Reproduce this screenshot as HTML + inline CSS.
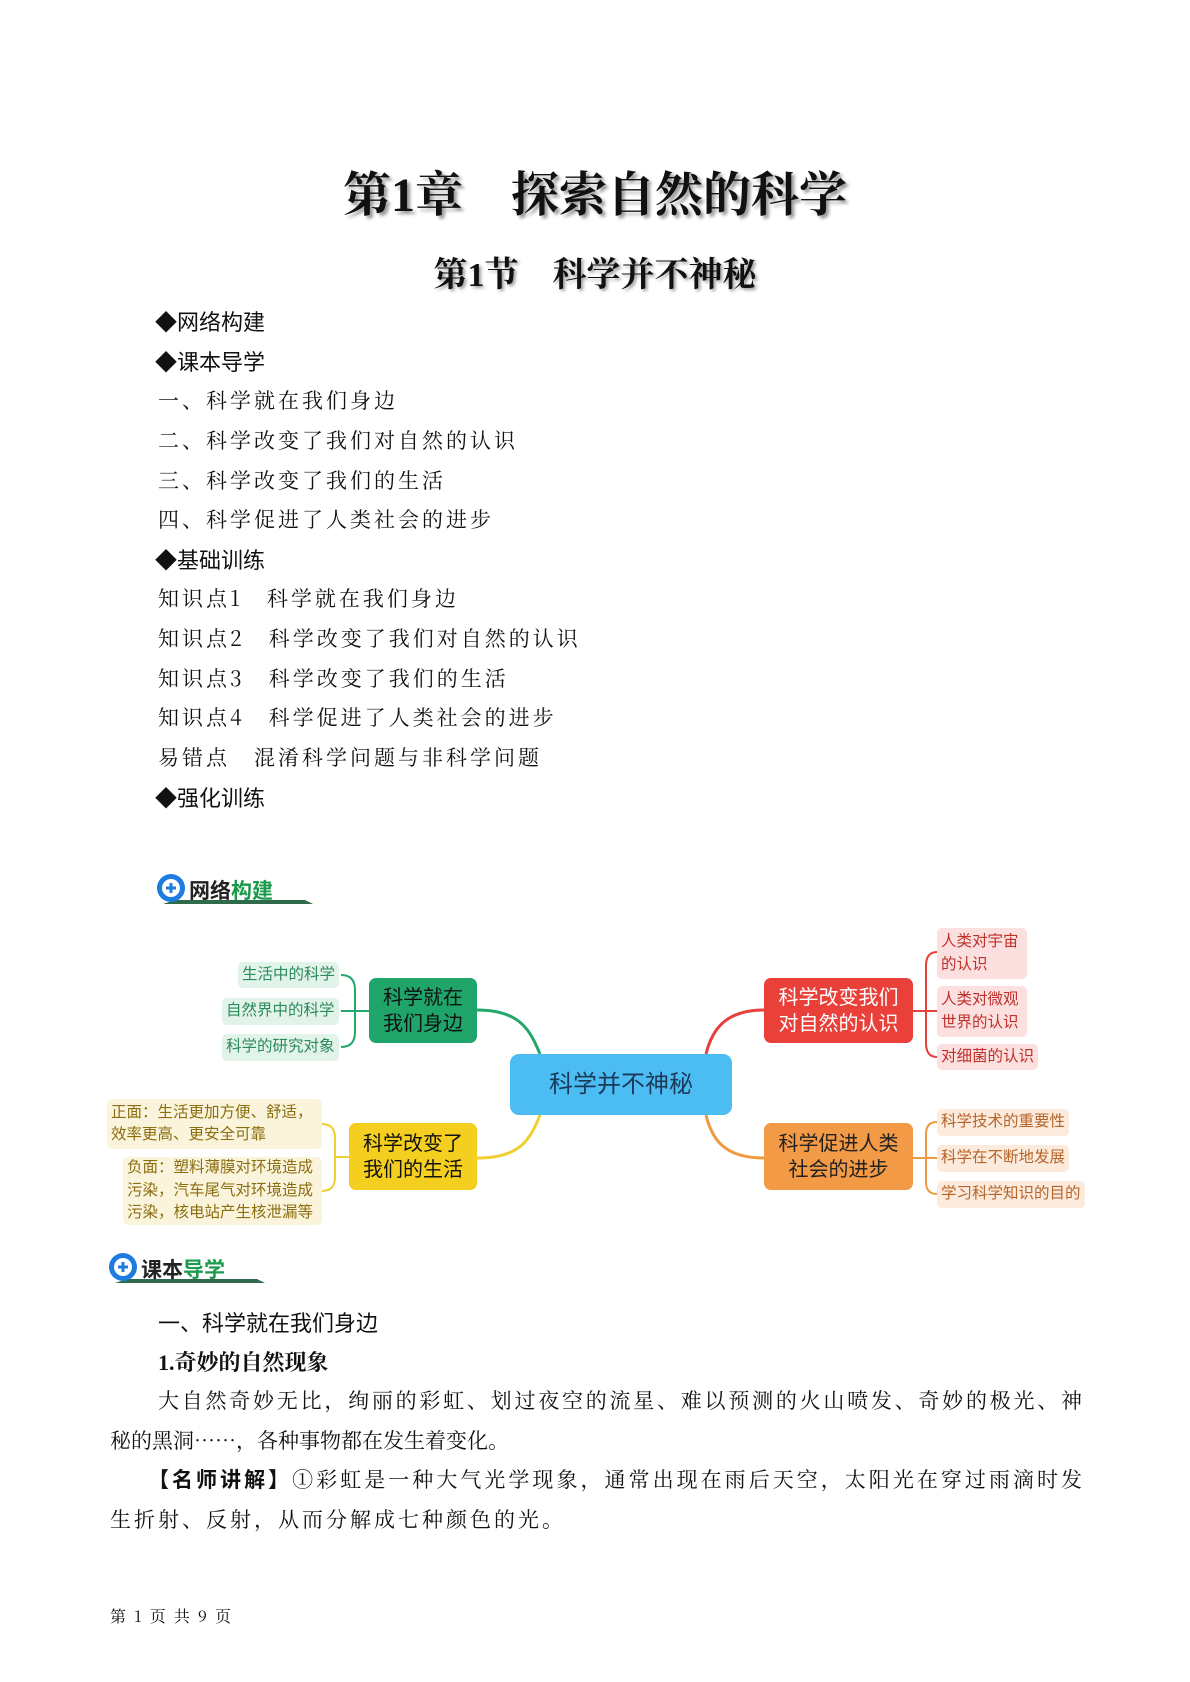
<!DOCTYPE html>
<html><head><meta charset="utf-8"><style>
*{margin:0;padding:0;box-sizing:border-box}
body{width:1190px;height:1682px;background:#fff;position:relative;overflow:hidden;font-family:"Liberation Serif","Noto Serif CJK SC",serif;color:#111}
.a{position:absolute;white-space:nowrap}
.t1{left:0;width:1190px;text-align:center;top:156px;font-size:48px;font-weight:bold;text-shadow:3px 3px 3px #999;font-family:"Liberation Serif","Noto Serif CJK SC",serif}
.t2{left:0;width:1190px;text-align:center;top:247px;font-size:34px;font-weight:bold;text-shadow:2px 2px 3px #999}
.h{font-family:"Liberation Sans","Noto Sans CJK SC",sans-serif;font-size:22px;left:155px}
.l{font-family:"Noto Serif CJK SC",serif;font-size:21px;left:158px;letter-spacing:3px}
.nd{position:absolute;display:flex;align-items:center;justify-content:center;text-align:center;font-family:"Liberation Sans","Noto Sans CJK SC",sans-serif;border-radius:7px;line-height:1.3}
.lf{position:absolute;font-family:"Liberation Sans","Noto Sans CJK SC",sans-serif;font-size:15.5px;border-radius:5px;padding:2px 4px;line-height:1.45;display:flex;align-items:center}
.g{background:#e2f3ea;color:#2a8a5c}
.r{background:#fbe0df;color:#c0302a}
.y{background:#fbf4dc;color:#8a6e10}
.o{background:#fcebdc;color:#b5642a}
.p{font-family:"Noto Serif CJK SC",serif;font-size:21px;position:absolute;left:110px;width:972px;line-height:40px;text-align:justify;text-align-last:justify}
</style></head><body>
<div class="a t1">第1章　探索自然的科学</div>
<div class="a t2">第1节　科学并不神秘</div>
<div class="a h" style="top:305px">◆网络构建</div>
<div class="a h" style="top:345px">◆课本导学</div>
<div class="a l" style="top:385px">一、科学就在我们身边</div>
<div class="a l" style="top:425px">二、科学改变了我们对自然的认识</div>
<div class="a l" style="top:465px">三、科学改变了我们的生活</div>
<div class="a l" style="top:504px">四、科学促进了人类社会的进步</div>
<div class="a h" style="top:543px">◆基础训练</div>
<div class="a l" style="top:583px">知识点1　科学就在我们身边</div>
<div class="a l" style="top:623px">知识点2　科学改变了我们对自然的认识</div>
<div class="a l" style="top:663px">知识点3　科学改变了我们的生活</div>
<div class="a l" style="top:702px">知识点4　科学促进了人类社会的进步</div>
<div class="a l" style="top:742px">易错点　混淆科学问题与非科学问题</div>
<div class="a h" style="top:781px">◆强化训练</div>

<svg class="a" style="left:155px;top:872px" width="160" height="36"><path d="M8 32 L158 32 L150 28 L20 28Z" fill="#2f6b4a"/><circle cx="16" cy="16" r="14" fill="#1e7be0"/><circle cx="16" cy="16" r="9" fill="#fff"/><path d="M16 11v10M11 16h10" stroke="#1e7be0" stroke-width="3"/><text x="34" y="26" font-family="Liberation Sans,Noto Sans CJK SC,sans-serif" font-size="21" font-weight="bold" fill="#222">网络<tspan fill="#1a9a4a">构建</tspan></text></svg>
<svg class="a" style="left:107px;top:1251px" width="160" height="36"><path d="M8 32 L158 32 L150 28 L20 28Z" fill="#2f6b4a"/><circle cx="16" cy="16" r="14" fill="#1e7be0"/><circle cx="16" cy="16" r="9" fill="#fff"/><path d="M16 11v10M11 16h10" stroke="#1e7be0" stroke-width="3"/><text x="34" y="26" font-family="Liberation Sans,Noto Sans CJK SC,sans-serif" font-size="21" font-weight="bold" fill="#222">课本<tspan fill="#1a9a4a">导学</tspan></text></svg>

<svg class="a" style="left:0;top:0" width="1190" height="1682" fill="none" stroke-width="3">
<path d="M477 1010 C520 1010 530 1030 540 1054" stroke="#22a86a"/>
<path d="M764 1010 C725 1010 712 1030 706 1054" stroke="#e5403a"/>
<path d="M477 1158 C520 1158 530 1140 540 1115" stroke="#f0cf30"/>
<path d="M764 1158 C725 1158 712 1140 706 1115" stroke="#f09a40"/>
<g stroke-width="2">
<path d="M369 1011 H355 M341 975 Q355 975 355 990 V1032 Q355 1047 341 1047 M341 1011 H355" stroke="#22a86a"/>
<path d="M913 1011 H926 M937 952 Q926 952 926 966 V1043 Q926 1057 937 1057 M926 1011 H937" stroke="#e5403a"/>
<path d="M349 1157 H335 M322 1124 Q335 1124 335 1138 V1177 Q335 1191 322 1191" stroke="#f0cf30"/>
<path d="M913 1158 H926 M937 1122 Q926 1122 926 1134 V1182 Q926 1194 937 1194 M926 1158 H937" stroke="#f09a40"/>
</g></svg>

<div class="nd" style="left:510px;top:1054px;width:222px;height:61px;background:#4cbdf2;color:#1b3a5a;font-size:24px;border-radius:9px">科学并不神秘</div>
<div class="nd" style="left:369px;top:978px;width:108px;height:65px;background:#1fa56a;color:#111;font-size:20px">科学就在<br>我们身边</div>
<div class="nd" style="left:764px;top:978px;width:149px;height:65px;background:#e9403a;color:#fff;font-size:20px">科学改变我们<br>对自然的认识</div>
<div class="nd" style="left:349px;top:1123px;width:128px;height:67px;background:#f5cf1f;color:#111;font-size:20px">科学改变了<br>我们的生活</div>
<div class="nd" style="left:764px;top:1123px;width:149px;height:67px;background:#f29a45;color:#222;font-size:20px">科学促进人类<br>社会的进步</div>

<div class="lf g" style="left:238px;top:962px;height:26px">生活中的科学</div>
<div class="lf g" style="left:222px;top:998px;height:27px">自然界中的科学</div>
<div class="lf g" style="left:222px;top:1034px;height:27px">科学的研究对象</div>
<div class="lf r" style="left:937px;top:928px;width:90px;height:51px">人类对宇宙<br>的认识</div>
<div class="lf r" style="left:937px;top:986px;width:90px;height:51px">人类对微观<br>世界的认识</div>
<div class="lf r" style="left:937px;top:1044px;height:26px">对细菌的认识</div>
<div class="lf y" style="left:107px;top:1099px;width:215px;height:50px">正面：生活更加方便、舒适，<br>效率更高、更安全可靠</div>
<div class="lf y" style="left:123px;top:1157px;width:199px;height:68px">负面：塑料薄膜对环境造成<br>污染，汽车尾气对环境造成<br>污染，核电站产生核泄漏等</div>
<div class="lf o" style="left:937px;top:1109px;height:27px">科学技术的重要性</div>
<div class="lf o" style="left:937px;top:1145px;height:27px">科学在不断地发展</div>
<div class="lf o" style="left:937px;top:1181px;height:27px">学习科学知识的目的</div>

<div class="a" style="left:158px;top:1306px;font-family:'Liberation Sans','Noto Sans CJK SC',sans-serif;font-size:22px">一、科学就在我们身边</div>
<div class="a" style="left:158px;top:1346px;font-size:22px;font-weight:bold">1.奇妙的自然现象</div>
<div class="p" style="top:1380px;text-indent:48px">大自然奇妙无比，绚丽的彩虹、划过夜空的流星、难以预测的火山喷发、奇妙的极光、神</div>
<div class="p" style="top:1420px;text-align-last:left">秘的黑洞……，各种事物都在发生着变化。</div>
<div class="p" style="top:1459px;text-indent:38px"><b style="font-family:'Liberation Sans','Noto Sans CJK SC',sans-serif">【名师讲解】</b>①彩虹是一种大气光学现象，通常出现在雨后天空，太阳光在穿过雨滴时发</div>
<div class="p" style="top:1499px;text-align-last:left;letter-spacing:3px">生折射、反射，从而分解成七种颜色的光。</div>
<div class="a" style="left:110px;top:1604px;font-size:16px;font-family:'Noto Serif CJK SC',serif;letter-spacing:2px">第 1 页 共 9 页</div>
</body></html>
